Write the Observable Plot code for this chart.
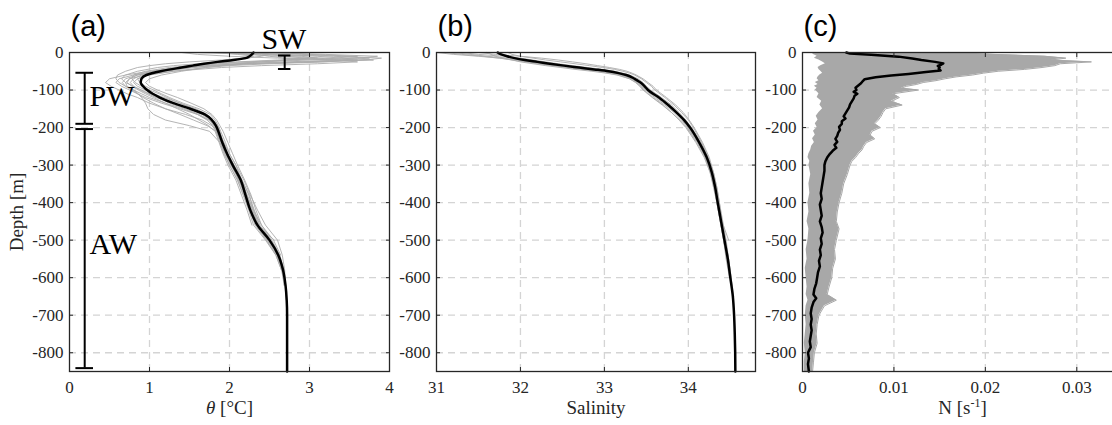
<!DOCTYPE html>
<html><head><meta charset="utf-8">
<script src="https://cdn.jsdelivr.net/npm/d3@7"></script>
<script src="https://cdn.jsdelivr.net/npm/@observablehq/plot@0.6"></script>
<style>
html,body{margin:0;padding:0;background:#fff;overflow:hidden;width:1112px;height:425px}
#wrap{position:relative;width:1112px;height:425px;overflow:hidden}
#wrap svg{position:absolute;top:0;overflow:visible;background:transparent}
</style></head>
<body><div id="wrap"></div>
<script>
// ---------- shared ----------
const Y_TICKS = [-800,-700,-600,-500,-400,-300,-200,-100,0];

// ---------- panel (a): potential temperature ----------
const DEPTH_A = [0,-5,-10,-15,-20,-25,-30,-35,-40,-50,-60,-70,-80,-90,-100,-110,-120,-135,-150,-165,-180,-195,-210,-240,-270,-300,-340,-380,-420,-460,-500,-540,-580,-620,-660,-700,-750,-800,-850];
const THETA_MEAN = [2.30,2.28,2.25,2.20,2.05,1.85,1.68,1.54,1.40,1.14,0.96,0.90,0.89,0.92,0.97,1.04,1.13,1.30,1.51,1.69,1.78,1.83,1.86,1.91,1.97,2.04,2.14,2.20,2.26,2.35,2.50,2.61,2.67,2.70,2.715,2.72,2.72,2.72,2.72];
const THETA_P1 = [2.4,3.2,3.85,3.6,3.0,2.4,1.9,1.6,1.4,1.05,0.8,0.62,0.58,0.65,0.75,0.85,0.95,1.15,1.38,1.6,1.74,1.81,1.85,1.9,1.95,2.02,2.12,2.19,2.26,2.33,2.47,2.59,2.66,2.69];
const THETA_P2 = [1.5,2.4,3.3,3.75,3.4,2.7,2.1,1.7,1.4,1.0,0.7,0.5,0.45,0.52,0.62,0.72,0.85,1.0,1.2,1.45,1.66,1.78,1.84,1.89,1.94,2.0,2.1,2.17,2.24,2.3,2.45,2.58,2.65];
const THETA_P3 = [2.2,2.6,2.9,3.1,2.8,2.2,1.6,1.3,1.1,0.85,0.7,0.65,0.7,0.8,0.9,1.0,1.1,1.25,1.45,1.62,1.75,1.82,1.87,1.93,1.98,2.06,2.16,2.24,2.31,2.38,2.52,2.62,2.68,2.7,2.71];
const THETA_P4 = [2.0,2.3,2.5,2.7,3.5,3.2,2.5,2.0,1.7,1.3,1.0,0.85,0.8,0.85,0.95,1.05,1.18,1.38,1.58,1.72,1.8,1.85,1.88,1.92,1.97,2.04,2.14,2.22,2.3,2.4,2.55,2.64];
const THETA_P5 = [1.4,1.6,2.0,2.6,3.3,3.6,3.1,2.4,1.9,1.3,0.95,0.75,0.7,0.72,0.8,0.9,1.0,1.2,1.42,1.6,1.72,1.79,1.83,1.88,1.93,2.0,2.1,2.18,2.25,2.32,2.46,2.58,2.65,2.69];
const THETA_P6 = [2.3,2.5,2.4,2.2,1.9,1.5,1.2,1.0,0.85,0.7,0.6,0.58,0.62,0.7,0.8,0.86,0.9,0.95,0.98,1.05,1.2,1.5,1.75,1.88,1.95,2.02,2.12,2.2,2.28,2.36,2.56];
const THETA_P7 = [2.5,2.9,3.4,3.9,3.7,3.0,2.3,1.85,1.55,1.2,0.95,0.85,0.88,0.95,1.05,1.15,1.25,1.42,1.62,1.76,1.82,1.86,1.89,1.95,2.0,2.08,2.18,2.26,2.35,2.45,2.6,2.66,2.69,2.7];
const THETA_P8 = [1.8,2.1,2.3,2.25,2.1,1.9,1.75,1.55,1.35,1.05,0.85,0.75,0.72,0.78,0.86,0.95,1.05,1.2,1.35,1.5,1.62,1.74,1.82,1.87,1.92,1.98,2.08,2.15,2.22,2.28];
const THETA_P9 = [2.6,3.0,3.6,3.3,2.6,2.1,1.8,1.5,1.25,0.95,0.8,0.78,0.82,0.9,1.0,1.12,1.22,1.38,1.55,1.7,1.77,1.82,1.85,1.93,2.0,2.08,2.15,2.25,2.3,2.37,2.5,2.61,2.66,2.68];
const THETA_P10 = [2.1,2.7,3.1,3.4,3.8,3.1,2.2,1.75,1.45,1.1,0.9,0.8,0.76,0.8,0.88,0.98,1.08,1.3,1.5,1.66,1.76,1.8,1.84,1.9,1.96,2.05,2.15,2.22,2.29,2.36,2.5,2.6,2.66,2.7,2.72];
const THETA_P11 = [2.25,2.45,2.7,3.2,3.6,2.9,2.2,1.8,1.5,1.15,0.85,0.7,0.66,0.7,0.78,0.85,0.92,1.05,1.2,1.38,1.55,1.72,1.83,1.9,1.97,2.05,2.11,2.21,2.28,2.34,2.48,2.6,2.67,2.7];
const THETA_P12 = [1.9,2.2,2.6,3.0,2.7,2.4,2.1,1.9,1.7,1.4,1.15,1.0,0.95,1.0,1.1,1.22,1.35,1.52,1.68,1.78,1.84,1.88,1.92,1.98,2.04,2.1,2.19,2.27,2.33,2.4,2.53,2.63,2.68];
const THETA_PROFILES = [THETA_P1,THETA_P2,THETA_P3,THETA_P4,THETA_P5,THETA_P6,THETA_P7,THETA_P8,THETA_P9,THETA_P10,THETA_P11,THETA_P12];
// water-mass layers (depth ranges, bracket position in °C)
const LAYERS = [
  {name:"SW", x:2.69, top:-8,   bottom:-44,  cap:0.078, labelX:2.68, labelY:36},
  {name:"PW", x:0.19, top:-54,  bottom:-190, cap:0.11,  labelX:0.25, labelY:-116},
  {name:"AW", x:0.19, top:-204, bottom:-841, cap:0.11,  labelX:0.25, labelY:-510}
];

// ---------- panel (b): salinity ----------
const DEPTH_B = [0,-5,-10,-15,-20,-25,-30,-35,-40,-45,-50,-55,-60,-70,-80,-90,-100,-120,-140,-160,-180,-200,-240,-280,-320,-360,-400,-450,-500,-550,-600,-650,-700,-750,-800,-850];
const SAL_MEAN = [31.73,31.77,31.84,31.93,32.05,32.20,32.35,32.52,32.70,32.88,33.05,33.17,33.26,33.36,33.43,33.48,33.52,33.65,33.76,33.86,33.95,34.02,34.13,34.22,34.28,34.32,34.35,34.39,34.43,34.47,34.50,34.53,34.545,34.553,34.558,34.56];
const SAL_P1 = [31.0,31.2,31.5,31.75,31.95,32.1,32.25,32.42,32.6,32.78,32.95,33.1,33.2,33.32,33.4,33.45,33.5,33.62,33.74,33.85,33.93,34.0,34.12,34.2,34.27,34.31,34.34,34.38,34.42,34.46,34.5];
const SAL_P2 = [31.3,31.5,31.8,32.0,32.15,32.3,32.45,32.62,32.8,32.98,33.12,33.22,33.3,33.4,33.46,33.5,33.55,33.68,33.8,33.89,33.97,34.04,34.15,34.23,34.29,34.33,34.36,34.4,34.44,34.48,34.51,34.53];
const SAL_P3 = [31.6,31.65,31.7,31.8,31.9,32.0,32.15,32.3,32.48,32.65,32.85,33.02,33.15,33.3,33.38,33.44,33.49,33.6,33.72,33.83,33.92,33.99,34.11,34.21,34.27,34.31,34.35,34.39,34.43,34.46];
const SAL_P4 = [31.85,31.9,32.0,32.15,32.3,32.48,32.65,32.82,32.98,33.12,33.22,33.3,33.36,33.44,33.5,33.56,33.6,33.72,33.83,33.92,34.0,34.06,34.16,34.24,34.3,34.34,34.37,34.4,34.48];
const SAL_P5 = [31.2,31.4,31.6,31.85,32.05,32.22,32.38,32.55,32.72,32.9,33.06,33.18,33.27,33.37,33.43,33.49,33.53,33.66,33.78,33.88,33.96,34.03,34.14,34.22,34.28,34.32,34.35,34.39,34.43,34.47,34.5,34.53];
const SAL_P6 = [31.7,31.75,31.82,31.9,32.0,32.12,32.28,32.45,32.62,32.8,32.98,33.12,33.22,33.33,33.39,33.43,33.47,33.58,33.7,33.8,33.9,33.98,34.1,34.2,34.26,34.3,34.34,34.38,34.42,34.45,34.49];
const SAL_P7 = [31.5,31.7,32.0,32.25,32.45,32.62,32.78,32.92,33.06,33.18,33.27,33.33,33.38,33.46,33.52,33.58,33.62,33.74,33.85,33.94,34.01,34.07,34.17,34.25,34.3,34.34,34.37,34.41,34.45,34.48,34.51,34.54];
const SAL_P8 = [31.1,31.3,31.55,31.75,31.9,32.05,32.2,32.36,32.55,32.72,32.9,33.05,33.17,33.3,33.37,33.42,33.46,33.57,33.69,33.8,33.89,33.97,34.09,34.19,34.26,34.31,34.34,34.38,34.42,34.46];
const SAL_PROFILES = [SAL_P1,SAL_P2,SAL_P3,SAL_P4,SAL_P5,SAL_P6,SAL_P7,SAL_P8];

// ---------- panel (c): buoyancy frequency ----------
const DEPTH_C = [0,-5,-10,-15,-20,-25,-30,-35,-40,-45,-50,-55,-60,-65,-70,-75,-80,-85,-90,-95,-100,-110,-120,-130,-140,-150,-160,-170,-180,-190,-200,-210,-220,-230,-240,-250,-260,-270,-280,-290,-300,-325,-350,-375,-400,-425,-450,-470,-500,-525,-550,-575,-600,-625,-645,-660,-675,-700,-725,-750,-775,-800,-825,-850];
const N_HIGH = [0.016,0.021,0.0265,0.0288,0.0272,0.0316,0.0282,0.0276,0.0262,0.0243,0.0214,0.0198,0.0186,0.0168,0.0156,0.0146,0.0132,0.0125,0.0114,0.0108,0.0127,0.0099,0.0106,0.0097,0.0109,0.0091,0.0088,0.0086,0.0083,0.0079,0.0085,0.0076,0.0074,0.0079,0.0070,0.0067,0.0065,0.0061,0.0058,0.0054,0.0052,0.0049,0.0045,0.0043,0.0040,0.0038,0.0037,0.0040,0.0037,0.0035,0.0036,0.0033,0.0032,0.0029,0.0027,0.0037,0.0024,0.0018,0.0016,0.0015,0.0016,0.0013,0.0012,0.0011];
const N_LOW = [0.0010,0.0012,0.0016,0.0013,0.0018,0.0022,0.0025,0.0020,0.0017,0.0018,0.0020,0.0022,0.0019,0.0017,0.0016,0.0018,0.0014,0.0017,0.0013,0.0016,0.0014,0.0018,0.0016,0.0021,0.0019,0.0022,0.0018,0.0015,0.0017,0.0014,0.0016,0.0012,0.0014,0.0011,0.0013,0.0010,0.0009,0.0007,0.0006,0.0008,0.0007,0.0009,0.0007,0.0008,0.0006,0.0007,0.0005,0.0007,0.0006,0.0004,0.0005,0.0003,0.0004,0.0005,0.0004,0.0006,0.0004,0.0003,0.0004,0.0003,0.0002,0.0003,0.0002,0.0002];
const MEAN_C_DEPTH = [0,-3,-6,-11,-16,-20,-25,-29,-32,-36,-40,-44,-48,-52,-57,-61,-66,-71,-76,-82,-88,-94,-100,-105,-110,-115,-122,-130,-138,-146,-154,-162,-170,-176,-183,-190,-198,-206,-214,-222,-230,-238,-246,-254,-262,-270,-280,-290,-300,-315,-330,-345,-360,-375,-390,-405,-420,-435,-450,-465,-480,-495,-510,-525,-540,-555,-570,-585,-600,-615,-630,-645,-655,-665,-680,-695,-710,-725,-740,-755,-770,-785,-800,-815,-830,-850];
const N_MEAN = [0.0048,0.0052,0.0075,0.0105,0.0120,0.0130,0.0145,0.0154,0.0152,0.0148,0.0150,0.0149,0.0151,0.0135,0.0116,0.0097,0.0080,0.0068,0.0066,0.0064,0.0061,0.0058,0.0059,0.0056,0.0060,0.0057,0.0056,0.0054,0.0052,0.0051,0.0049,0.0047,0.0045,0.0047,0.0043,0.0043,0.0040,0.0041,0.0039,0.0038,0.0036,0.0038,0.0035,0.0037,0.0033,0.0030,0.0027,0.0025,0.0024,0.0024,0.0023,0.0022,0.0021,0.0020,0.0021,0.0019,0.0020,0.0021,0.0019,0.0021,0.0022,0.0020,0.0021,0.0019,0.0020,0.0018,0.0019,0.0017,0.0016,0.0015,0.0013,0.0012,0.0015,0.0012,0.0010,0.0009,0.0010,0.0009,0.0010,0.0009,0.0008,0.0009,0.0006,0.0007,0.0006,0.0007];

// ---------- helpers ----------
const wrap = document.getElementById("wrap");
const fmt = d => String(d);
const profileRows = (profiles, depths) => profiles.flatMap((p, id) => p.map((v, j) => ({id, depth: depths[j], v})));
const meanRows = (vals, depths) => vals.map((v, j) => ({depth: depths[j], v}));
const SERIF = "'Liberation Serif','Times New Roman',serif";
const GRID = {stroke:"#d4d4d4", strokeOpacity:1, strokeWidth:1.3, strokeDasharray:"7,5"};
const AXC = "#262626";
const TXT = {fontFamily: SERIF, fontSize: 17, fill: AXC};

function makePanel(o) {
  const gx = o.xTicks.filter(t => t > o.xDomain[0] && t < o.xDomain[1]);
  const svg = Plot.plot({
    width: o.width, height: 425,
    marginLeft: o.mL, marginRight: o.mR, marginTop: 52, marginBottom: 54,
    style: {fontFamily: SERIF, fontSize: "17px", background: "transparent", overflow: "visible", color: AXC},
    x: {domain: o.xDomain},
    y: {domain: [-850, 0]},
    marks: [
      Plot.gridX(gx, GRID),
      Plot.gridY(Y_TICKS.filter(t => t > -850 && t < 0), GRID),
      ...o.marks,
      Plot.frame({stroke: AXC, strokeWidth: 1.3}),
      Plot.axisX(o.xTicks, {anchor:"bottom", tickSize:0, tickPadding:9, tickFormat:fmt, label:null, ...TXT}),
      Plot.axisX(o.xTicks, {anchor:"bottom", tickSize:4, dy:-4, fill:"none", label:null}),
      Plot.axisX(o.xTicks, {anchor:"top", tickSize:4, dy:4, fill:"none", label:null}),
      Plot.axisY(Y_TICKS, {anchor:"left", tickSize:0, tickPadding:6, tickFormat:fmt, label:null, ...TXT}),
      Plot.axisY(Y_TICKS, {anchor:"left", tickSize:4, dx:4, fill:"none", label:null}),
      Plot.axisY(Y_TICKS, {anchor:"right", tickSize:4, dx:-4, fill:"none", label:null}),
      Plot.text([o.xLabel], {frameAnchor:"bottom", lineAnchor:"middle", textAnchor:"middle", dy:36, text:d => d, fontFamily:SERIF, fontSize:19, fill:AXC}),
      Plot.text([o.tag], {frameAnchor:"top-left", lineAnchor:"middle", textAnchor:"start", dx:1, dy:-26, text:d => d,
        fontFamily:"'Liberation Sans',Arial,sans-serif", fontSize:29, fill:"#000"}),
      ...(o.extra || [])
    ]
  });
  svg.style.left = o.left + "px";
  wrap.appendChild(svg);
  return svg;
}

// ---------- (a) ----------
const svgA = makePanel({
  left: 0, width: 395, mL: 69, mR: 6, xDomain: [0, 4], xTicks: [0,1,2,3,4],
  xLabel: "θ [°C]", tag: "(a)",
  marks: [
    Plot.line(profileRows(THETA_PROFILES, DEPTH_A), {x:"v", y:"depth", z:"id", stroke:"#ababab", strokeWidth:0.9}),
    Plot.line(meanRows(THETA_MEAN, DEPTH_A), {x:"v", y:"depth", stroke:"#000", strokeWidth:2.5, curve:"monotone-y"}),
    Plot.ruleX(LAYERS, {x:"x", y1:"top", y2:"bottom", stroke:"#000", strokeWidth:2}),
    Plot.ruleY(LAYERS, {y:"top", x1:d => d.x - d.cap, x2:d => d.x + d.cap, stroke:"#000", strokeWidth:2}),
    Plot.ruleY(LAYERS, {y:"bottom", x1:d => d.x - d.cap, x2:d => d.x + d.cap, stroke:"#000", strokeWidth:2}),
    Plot.text(LAYERS.filter(d => d.name === "SW"), {x:"labelX", y:"labelY", text:"name", fontFamily:SERIF, fontSize:30, fill:"#000", textAnchor:"middle"}),
    Plot.text(LAYERS.filter(d => d.name !== "SW"), {x:"labelX", y:"labelY", text:"name", fontFamily:SERIF, fontSize:30, fill:"#000", textAnchor:"start"})
  ],
  extra: [
    Plot.text(["Depth [m]"], {frameAnchor:"left", lineAnchor:"middle", textAnchor:"middle", rotate:-90, dx:-53, text:d => d, fontFamily:SERIF, fontSize:19, fill:AXC})
  ]
});

// ---------- (b) ----------
makePanel({
  left: 380, width: 380, mL: 56, mR: 5, xDomain: [31, 34.8], xTicks: [31,32,33,34],
  xLabel: "Salinity", tag: "(b)",
  marks: [
    Plot.line(profileRows(SAL_PROFILES, DEPTH_B), {x:"v", y:"depth", z:"id", stroke:"#ababab", strokeWidth:0.9}),
    Plot.line(meanRows(SAL_MEAN, DEPTH_B), {x:"v", y:"depth", stroke:"#000", strokeWidth:2.5, curve:"monotone-y"})
  ]
});

// ---------- (c) ----------
const envRows = DEPTH_C.map((d, j) => ({depth: d, lo: N_LOW[j], hi: N_HIGH[j]}));
const svgC = makePanel({
  left: 750, width: 373, mL: 52, mR: 1, xDomain: [0, 0.035], xTicks: [0,0.01,0.02,0.03],
  xLabel: "N [s-1]", tag: "(c)",
  marks: [
    Plot.areaX(envRows, {y:"depth", x1:"lo", x2:"hi", fill:"#a8a8a8"}),
    Plot.line(envRows, {y:"depth", x:"hi", stroke:"#a8a8a8", strokeWidth:1}),
    Plot.line(meanRows(N_MEAN, MEAN_C_DEPTH), {x:"v", y:"depth", stroke:"#000", strokeWidth:2.5})
  ]
});

// rich text in axis labels
svgA.querySelectorAll("text").forEach(t => {
  if (t.textContent === "θ [°C]") t.innerHTML = '<tspan font-style="italic">θ</tspan> [°C]';
});
svgC.querySelectorAll("text").forEach(t => {
  if (t.textContent === "N [s-1]") t.innerHTML = 'N [s<tspan dy="-7" font-size="12">-1</tspan><tspan dy="7">]</tspan>';
});
</script>
</body></html>
